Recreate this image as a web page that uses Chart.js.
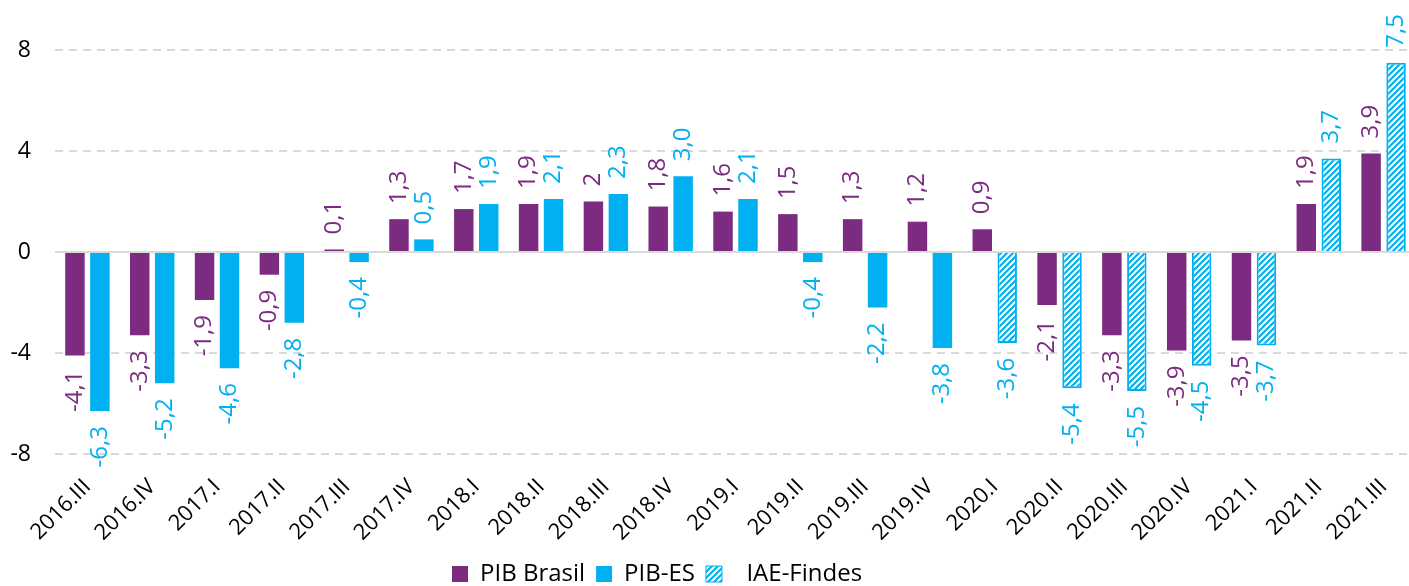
<!DOCTYPE html>
<html>
<head>
<meta charset="utf-8">
<script src="https://cdn.jsdelivr.net/npm/chart.js@4.4.0/dist/chart.umd.min.js"></script>
<style>
  html, body { margin: 0; padding: 0; background: #fff; }
  #wrap { width: 1409px; height: 586px; }
</style>
</head>
<body>
<div id="wrap"><canvas id="pibChart"></canvas></div>
<script>
// quarters on the x axis
const quarters = [
  "2016.III", "2016.IV", "2017.I", "2017.II", "2017.III", "2017.IV",
  "2018.I", "2018.II", "2018.III", "2018.IV", "2019.I", "2019.II",
  "2019.III", "2019.IV", "2020.I", "2020.II", "2020.III", "2020.IV",
  "2021.I", "2021.II", "2021.III",
];

// PIB Brasil (%)
const pibBrasil = [
  -4.1, -3.3, -1.9, -0.9, 0.1, 1.3, 1.7, 1.9, 2, 1.8, 1.6, 1.5,
  1.3, 1.2, 0.9, -2.1, -3.3, -3.9, -3.5, 1.9, 3.9,
];

// PIB-ES (%), from 2020.I the number comes from IAE-Findes
const pibES = [
  -6.3, -5.2, -4.6, -2.8, -0.4, 0.5, 1.9, 2.1, 2.3, 3.0, 2.1, -0.4,
  -2.2, -3.8, -3.6, -5.4, -5.5, -4.5, -3.7, 3.7, 7.5,
];
const firstIaeQuarter = "2020.I";

// y axis
const yMin = -8;
const yMax = 8;
const yStep = 4;

const purple = "#7B2C80";
const cyan = "#00B0F0";
const fontFamily = "'Open Sans', 'Noto Sans', sans-serif";

const iaeStart = quarters.indexOf(firstIaeQuarter);

// hatch (///) for IAE-Findes bars
function makeHatch() {
  const c = document.createElement("canvas");
  c.width = 6;
  c.height = 6;
  const g = c.getContext("2d");
  g.fillStyle = "#fff";
  g.fillRect(0, 0, 6, 6);
  g.strokeStyle = cyan;
  g.lineWidth = 2.2;
  g.beginPath();
  g.moveTo(-1, 7); g.lineTo(7, -1);
  g.moveTo(-4, 4); g.lineTo(4, -4);
  g.moveTo(2, 10); g.lineTo(10, 2);
  g.stroke();
  return g.createPattern(c, "repeat");
}
const hatch = makeHatch();

// value labels turned 90 degrees, outside the end of each bar
const barLabels = {
  id: "barLabels",
  afterDatasetsDraw(chart) {
    const ctx = chart.ctx;
    chart.data.datasets.forEach((ds, i) => {
      const meta = chart.getDatasetMeta(i);
      if (meta.hidden) return;
      meta.data.forEach((bar, j) => {
        const v = ds.data[j];
        const txt = (i === 0 ? String(v) : v.toFixed(1)).replace(".", ",");
        ctx.save();
        ctx.translate(bar.x, v >= 0 ? bar.y - 15 : bar.y + 15);
        ctx.rotate(-Math.PI / 2);
        ctx.font = "24px " + fontFamily;
        ctx.fillStyle = i === 0 ? purple : cyan;
        ctx.textAlign = v >= 0 ? "left" : "right";
        ctx.textBaseline = "middle";
        ctx.fillText(txt, 0, 0);
        ctx.restore();
      });
    });
  },
};

// plot runs a little past the right edge and the legend sits left of centre, as in the original
const nudgeLayout = {
  id: "nudgeLayout",
  afterLayout(chart) {
    const x = chart.scales.x;
    x.right = chart.width + 7;
    x.configure();
    chart.legend.left = 441;
    chart.legend.top += 10;
  },
};

const ctx = document.getElementById("pibChart").getContext("2d");

new Chart(ctx, {
  type: "bar",
  data: {
    labels: quarters,
    datasets: [
      {
        label: "PIB Brasil",
        data: pibBrasil,
        backgroundColor: purple,
        borderWidth: 0,
        categoryPercentage: 0.77,
        barPercentage: 0.78,
      },
      {
        label: "PIB-ES",
        data: pibES,
        backgroundColor: (c) => (c.dataIndex >= iaeStart ? hatch : cyan),
        borderColor: cyan,
        borderWidth: (c) => (c.dataIndex >= iaeStart ? 2 : 0),
        categoryPercentage: 0.77,
        barPercentage: 0.78,
      },
    ],
  },
  options: {
    responsive: true,
    maintainAspectRatio: false,
    animation: false,
    layout: { padding: { top: 50, right: 0, left: 0, bottom: 0 } },
    plugins: {
      tooltip: { enabled: false },
      legend: {
        position: "bottom",
        align: "start",
        labels: {
          color: "#000",
          font: { family: fontFamily, size: 24 },
          boxWidth: 16,
          boxHeight: 16,
          padding: 11,
          generateLabels: () => [
            { text: "PIB Brasil", fillStyle: purple, strokeStyle: purple, lineWidth: 0, datasetIndex: 0 },
            { text: "PIB-ES", fillStyle: cyan, strokeStyle: cyan, lineWidth: 0, datasetIndex: 1 },
            { text: "  IAE-Findes", fillStyle: hatch, strokeStyle: cyan, lineWidth: 1, datasetIndex: 1 },
          ],
        },
      },
    },
    scales: {
      x: {
        grid: { display: false },
        border: { display: false },
        ticks: {
          color: "#000",
          font: { family: fontFamily, size: 22 },
          minRotation: 45,
          maxRotation: 45,
          padding: 12,
          autoSkip: false,
        },
        afterFit: (scale) => { scale.height = 87; },
      },
      y: {
        min: yMin,
        max: yMax,
        grid: {
          color: "#D9D9D9",
          lineWidth: 2,
          drawTicks: false,
        },
        border: {
          display: false,
          dash: (c) => (c.tick && c.tick.value === 0 ? [] : [8, 6]),
        },
        ticks: {
          stepSize: yStep,
          color: "#000",
          font: { family: fontFamily, size: 23 },
          padding: 24,
        },
        afterFit: (scale) => { scale.width = 55; },
      },
    },
  },
  plugins: [barLabels, nudgeLayout],
});
</script>
</body>
</html>
